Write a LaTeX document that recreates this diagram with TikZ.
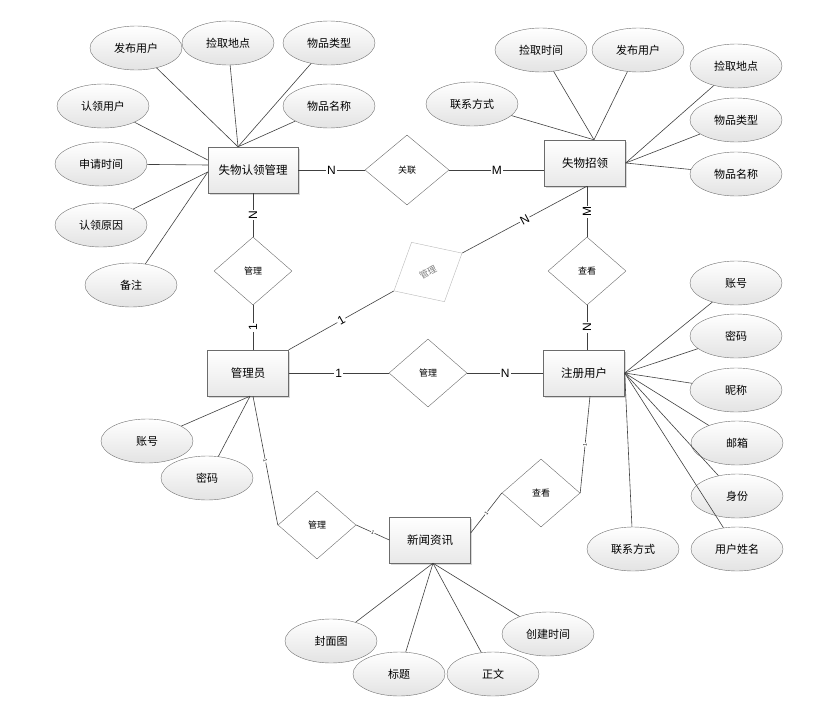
\documentclass[tikz,border=0pt]{standalone}
\usepackage{fontspec}
\setmainfont{Liberation Sans}
\newfontfamily\cjk{Noto Sans CJK SC}
\usetikzlibrary{shapes.geometric,shadows}

\begin{document}
\begin{tikzpicture}[x=1pt, y=-1pt,
  attr/.style = {ellipse, draw=gray!90!black, top color=white, bottom color=gray!22,
    minimum width=92pt, minimum height=44pt, inner sep=0pt, font=\cjk\fontsize{11}{11}\selectfont},
  ent/.style = {rectangle, draw=gray!85!black, top color=white, bottom color=gray!18,
    minimum width=81pt, minimum height=46pt, font=\cjk\fontsize{11.5}{12}\selectfont,
    drop shadow={shadow xshift=1.5pt, shadow yshift=-1.5pt, opacity=0.3}},
  rel/.style = {diamond, draw=gray!85!black, fill=white, minimum width=78pt, minimum height=68pt,
    inner sep=0pt, font=\cjk\fontsize{9}{9}\selectfont},
  card/.style = {fill=white, inner sep=1pt, font=\fontsize{12}{12}\selectfont},
  tinycard/.style = {fill=white, inner sep=0.5pt, font=\fontsize{5}{5}\selectfont},
  conn/.style = {draw=black!75, line width=0.6pt}]
  \useasboundingbox (0,0) rectangle (831,710);

  \node[ent, minimum width=90pt] (claim) at (253,170) {失物认领管理};
  \node[ent] (found) at (585,163) {失物招领};
  \node[ent] (admin) at (248,373) {管理员};
  \node[ent] (user) at (584,373) {注册用户};
  \node[ent] (news) at (430,540) {新闻资讯};

  \node[rel, minimum width=84pt, minimum height=70pt] (rAssoc) at (407,170) {关联};
  \node[rel] (rManClaim) at (253,271) {管理};
  \node[rel, draw=gray!55, text=gray, rotate=29] (rManFound) at (428,272) {管理};
  \node[rel] (rView) at (587,271) {查看};
  \node[rel] (rManUser) at (428,373) {管理};
  \node[rel] (rManNews) at (317,525) {管理};
  \node[rel] (rViewNews) at (541,493) {查看};

  \node[attr] (cPub) at (136,48) {发布用户};
  \node[attr] (cPlace) at (228,43) {捡取地点};
  \node[attr] (cType) at (329,43) {物品类型};
  \node[attr] (cName) at (329,106) {物品名称};
  \node[attr] (cUser) at (103,106) {认领用户};
  \node[attr] (cTime) at (101,164) {申请时间};
  \node[attr] (cReason) at (101,225) {认领原因};
  \node[attr] (cNote) at (131,285) {备注};

  \node[attr] (fTime) at (541,50) {捡取时间};
  \node[attr] (fPub) at (638,50) {发布用户};
  \node[attr] (fPlace) at (736,66) {捡取地点};
  \node[attr] (fType) at (736,120) {物品类型};
  \node[attr] (fName) at (736,174) {物品名称};
  \node[attr] (fContact) at (472,104) {联系方式};

  \node[attr] (uAcc) at (736,283) {账号};
  \node[attr] (uPwd) at (736,336) {密码};
  \node[attr] (uNick) at (736,390) {昵称};
  \node[attr] (uMail) at (737,443) {邮箱};
  \node[attr] (uRole) at (737,496) {身份};
  \node[attr] (uName) at (737,549) {用户姓名};
  \node[attr] (uContact) at (633,549) {联系方式};

  \node[attr] (aAcc) at (147,441) {账号};
  \node[attr] (aPwd) at (207,478) {密码};

  \node[attr] (nCover) at (331,641) {封面图};
  \node[attr] (nDate) at (548,634) {创建时间};
  \node[attr] (nTitle) at (399,674) {标题};
  \node[attr] (nBody) at (493,674) {正文};

  % attribute joints
  \coordinate (cTop) at ([xshift=-15pt]claim.north);
  \coordinate (fTop) at ([xshift=9pt]found.north);
  \coordinate (aBot) at ([xshift=2pt]admin.south);
  \coordinate (nBot) at ([xshift=3pt]news.south);

  \foreach \a in {cPub,cPlace,cType,cName} \draw[conn] (cTop) -- (\a);
  \draw[conn] ([yshift=10pt]claim.west) -- (cUser);
  \draw[conn] ([yshift=5pt]claim.west) -- (cTime);
  \draw[conn] ([yshift=-2pt]claim.west) -- (cReason);
  \draw[conn] ([yshift=-2pt]claim.west) -- (cNote);
  \foreach \a in {fTime,fPub,fContact} \draw[conn] (fTop) -- (\a);
  \foreach \a in {fPlace,fType,fName} \draw[conn] (found.east) -- (\a);
  \foreach \a in {uAcc,uPwd,uNick,uMail,uRole,uName,uContact} \draw[conn] (user.east) -- (\a);
  \foreach \a in {aAcc,aPwd} \draw[conn] (aBot) -- (\a);
  \foreach \a in {nCover,nTitle,nBody,nDate} \draw[conn] (nBot) -- (\a);

  % relations
  \draw[conn] (claim.east) -- node[card]{N} (rAssoc.west);
  \draw[conn] (rAssoc.east) -- node[card]{M} (rAssoc.east -| found.west);
  \draw[conn] (claim.south) -- node[card, rotate=90]{N} (rManClaim.north);
  \draw[conn] (rManClaim.south) -- node[card, rotate=90]{1} (rManClaim.south |- admin.north);
  \draw[conn] (admin.north east) -- node[card, sloped]{1} (rManFound.west);
  \draw[conn] (rManFound.east) -- node[card, sloped]{N} ([xshift=2pt]found.south);
  \draw[conn] ([xshift=2pt]found.south) -- node[card, rotate=90]{M} (rView.north);
  \draw[conn] (rView.south) -- node[card, rotate=90]{N} (rView.south |- user.north);
  \draw[conn] (admin.east) -- node[card]{1} (rManUser.west);
  \draw[conn] (rManUser.east) -- node[card]{N} (user.west);
  \draw[conn] ([xshift=5pt]admin.south) -- node[tinycard, sloped]{1} (rManNews.west);
  \draw[conn] (rManNews.east) -- node[tinycard, sloped]{1} (news.west);
  \draw[conn] ([yshift=7pt]news.east) -- node[tinycard, sloped]{1} (rViewNews.west);
  \draw[conn] (rViewNews.east) -- node[tinycard, sloped]{1} ([xshift=6pt]user.south);
\end{tikzpicture}
\end{document}
